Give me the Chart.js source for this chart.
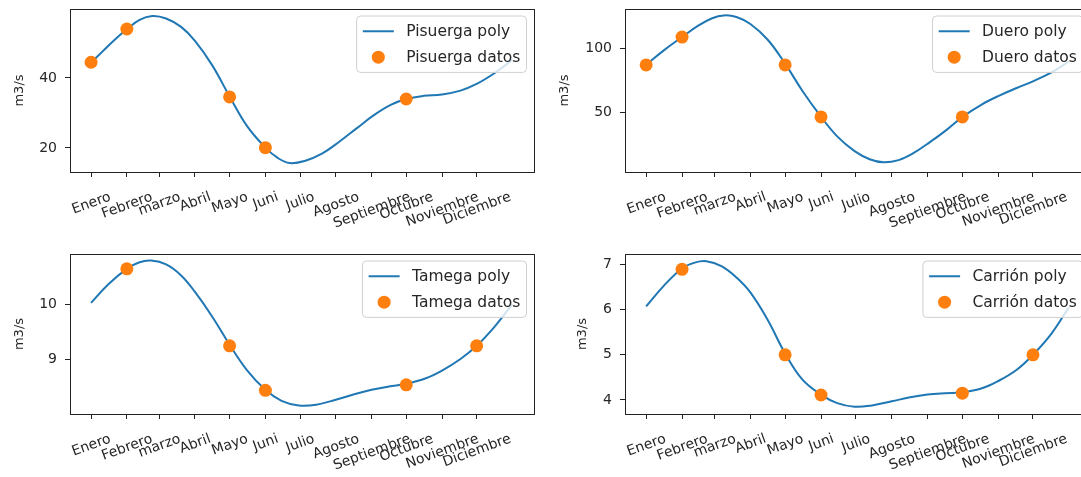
<!DOCTYPE html>
<html>
<head>
<meta charset="utf-8">
<script src="https://cdn.jsdelivr.net/npm/chart.js@4.4.1/dist/chart.umd.min.js"></script>
<style>
    html, body { margin: 0; padding: 0; background: #fff; }
    #wrap { position: relative; width: 1081px; height: 477px; overflow: hidden; background: #fff; }
    canvas { position: absolute; }
</style>
</head>
<body>
<div id="wrap">
    <canvas id="c1" style="left:0px;top:0px;width:540px;height:240px"></canvas>
    <canvas id="c2" style="left:540px;top:0px;width:560px;height:240px"></canvas>
    <canvas id="c3" style="left:0px;top:240px;width:540px;height:237px"></canvas>
    <canvas id="c4" style="left:540px;top:240px;width:560px;height:237px"></canvas>
</div>
<script>
// month labels and day-of-year where each month starts
const months = ['Enero', 'Febrero', 'marzo', 'Abril', 'Mayo', 'Juni', 'Julio', 'Agosto', 'Septiembre', 'Octubre', 'Noviembre', 'Diciembre'];
const monthDays = [0, 31, 59, 90, 120, 151, 181, 212, 243, 273, 304, 334];

// Pisuerga
const pisuergaDataDays = [0, 31, 120, 151, 273];
const pisuergaData = [44.5, 54.0, 34.6, 20.1, 34.0];
const pisuergaPolyDays = [0, 10, 20, 31, 42, 53, 65, 78, 90, 105, 120, 135, 151, 162, 172, 185, 200, 215, 230, 245, 260, 273, 288, 304, 320, 334, 350, 365];
const pisuergaPoly = [44.4, 47.6, 50.8, 53.9, 56.6, 57.7, 57.0, 54.6, 50.6, 43.6, 34.7, 26.3, 20.1, 17.1, 15.7, 16.3, 18.4, 21.8, 25.6, 29.4, 32.4, 34.0, 34.9, 35.3, 36.4, 38.3, 41.5, 45.2];
const pisuergaTicks = [20, 40];

// Duero
const dueroDataDays = [0, 31, 120, 151, 273];
const dueroData = [86.8, 108.6, 86.8, 46.2, 46.2];
const dueroPolyDays = [0, 15, 31, 45, 57, 67, 78, 90, 105, 120, 135, 151, 165, 180, 193, 205, 218, 230, 245, 260, 273, 290, 304, 320, 334, 350, 365];
const dueroPoly = [86.9, 98.0, 108.6, 117.5, 123.3, 125.5, 124.3, 118.8, 106.5, 87.8, 66.5, 46.4, 31.0, 19.5, 13.2, 10.8, 12.5, 17.5, 26.5, 36.5, 46.1, 56.0, 62.5, 68.8, 74.0, 81.0, 89.5];
const dueroTicks = [50, 100];

// Tamega
const tamegaDataDays = [31, 120, 151, 273, 334];
const tamegaData = [10.64, 9.24, 8.43, 8.53, 9.24];
const tamegaPolyDays = [0, 15, 31, 42, 52, 65, 78, 90, 105, 120, 135, 151, 165, 180, 195, 212, 228, 243, 258, 273, 290, 304, 320, 334, 350, 365];
const tamegaPoly = [10.02, 10.36, 10.64, 10.76, 10.79, 10.72, 10.52, 10.22, 9.77, 9.26, 8.80, 8.44, 8.24, 8.155, 8.17, 8.26, 8.36, 8.44, 8.50, 8.55, 8.65, 8.79, 9.00, 9.24, 9.60, 10.0];
const tamegaTicks = [9, 10];

// Carrión
const carrionDataDays = [31, 120, 151, 273, 334];
const carrionData = [6.89, 5.0, 4.11, 4.15, 5.0];
const carrionPolyDays = [0, 15, 31, 42, 52, 65, 78, 90, 105, 120, 135, 151, 165, 180, 195, 212, 228, 243, 258, 273, 290, 304, 320, 334, 350, 365];
const carrionPoly = [6.07, 6.52, 6.91, 7.04, 7.07, 6.96, 6.71, 6.38, 5.77, 5.03, 4.45, 4.12, 3.93, 3.85, 3.88, 3.97, 4.06, 4.12, 4.15, 4.17, 4.26, 4.42, 4.67, 5.0, 5.47, 6.05];
const carrionTicks = [4, 5, 6, 7];

const BLUE = '#1f77b4';
const ORANGE = '#ff7f0e';
const TEXT = '#262626';
const TICK_FONT = 14;
const LEGEND_FONT = 15.5;

function pts(xs, ys) {
    return xs.map(function (x, i) { return { x: x, y: ys[i] }; });
}

// frame, rotated month labels and legend inside the axes
const axesDecor = {
    id: 'axesDecor',
    afterDraw: function (chart) {
        const ctx = chart.ctx;
        const a = chart.chartArea;
        const xs = chart.scales.x;
        ctx.save();
        ctx.strokeStyle = '#222';
        ctx.lineWidth = 1;
        ctx.strokeRect(Math.round(a.left) + 0.5, Math.round(a.top) + 0.5, Math.round(a.right - a.left), Math.round(a.bottom - a.top));

        // x labels, rotated 20deg and centered under each tick
        ctx.font = TICK_FONT + 'px "DejaVu Sans"';
        ctx.fillStyle = TEXT;
        ctx.textAlign = 'center';
        ctx.textBaseline = 'middle';
        const ang = 20 * Math.PI / 180;
        xs.ticks.forEach(function (t, i) {
            const label = months[i];
            const w = ctx.measureText(label).width;
            const h = TICK_FONT * 1.16;
            const H = w * Math.sin(ang) + h * Math.cos(ang);
            const px = xs.getPixelForValue(t.value);
            const py = a.bottom + 16 + H / 2;
            ctx.save();
            ctx.translate(px, py);
            ctx.rotate(-ang);
            ctx.fillText(label, 0, 1);
            ctx.restore();
        });

        // legend
        const opts = chart.options.plugins.axesDecor;
        const f = LEGEND_FONT;
        ctx.font = f + 'px "DejaVu Sans"';
        const tw = Math.max.apply(null, opts.labels.map(function (s) { return ctx.measureText(s).width; }));
        const bp = 0.4 * f, hl = 2 * f, htp = 0.8 * f, rowH = 1.17 * f, ls = 0.5 * f;
        const lw = 2 * bp + hl + htp + tw;
        const lh = 2 * bp + 2 * rowH + ls;
        const lx = a.right - 7 - lw;
        const ly = a.top + 7;
        ctx.beginPath();
        ctx.roundRect(lx, ly, lw, lh, 4);
        ctx.fillStyle = 'rgba(255,255,255,0.8)';
        ctx.fill();
        ctx.strokeStyle = '#d0d0d0';
        ctx.stroke();
        const r1 = ly + bp + rowH / 2;
        const r2 = r1 + rowH + ls;
        ctx.strokeStyle = BLUE;
        ctx.lineWidth = 2;
        ctx.beginPath();
        ctx.moveTo(lx + bp, r1);
        ctx.lineTo(lx + bp + hl, r1);
        ctx.stroke();
        ctx.fillStyle = ORANGE;
        ctx.beginPath();
        ctx.arc(lx + bp + hl / 2, r2, 6.5, 0, Math.PI * 2);
        ctx.fill();
        ctx.fillStyle = TEXT;
        ctx.textAlign = 'left';
        ctx.textBaseline = 'middle';
        ctx.fillText(opts.labels[0], lx + bp + hl + htp, r1 + 1);
        ctx.fillText(opts.labels[1], lx + bp + hl + htp, r2 + 1);
        ctx.restore();
    }
};

function makeChart(id, cfg) {
    const canvas = document.getElementById(id);
    const W = parseInt(canvas.style.width), H = parseInt(canvas.style.height);
    return new Chart(canvas, {
        type: 'scatter',
        data: {
            datasets: [{
                label: cfg.name + ' datos',
                data: pts(cfg.dataDays, cfg.data),
                showLine: false,
                pointRadius: 6.5,
                pointHoverRadius: 6.5,
                pointBackgroundColor: ORANGE,
                pointBorderWidth: 0,
                order: 0
            }, {
                label: cfg.name + ' poly',
                data: pts(cfg.polyDays, cfg.poly),
                showLine: true,
                borderColor: BLUE,
                borderWidth: 2,
                pointRadius: 0,
                tension: 0.4,
                order: 1
            }]
        },
        options: {
            responsive: false,
            animation: false,
            layout: {
                padding: { left: 0, top: cfg.area[1], right: W - cfg.area[2], bottom: 0 }
            },
            plugins: {
                legend: { display: false },
                tooltip: { enabled: false },
                axesDecor: { labels: [cfg.name + ' poly', cfg.name + ' datos'] }
            },
            scales: {
                x: {
                    type: 'linear',
                    min: -18.25,
                    max: 383.25,
                    afterBuildTicks: function (s) {
                        s.ticks = monthDays.map(function (d) { return { value: d }; });
                    },
                    afterFit: function (s) {
                        s.height = H - cfg.area[3];
                        s.paddingLeft = 0;
                        s.paddingRight = 0;
                    },
                    ticks: { display: false },
                    grid: { drawOnChartArea: false, drawTicks: true, tickLength: 5, color: '#222', tickWidth: 1 },
                    border: { display: false }
                },
                y: {
                    min: cfg.ylim[0],
                    max: cfg.ylim[1],
                    afterBuildTicks: function (s) {
                        s.ticks = cfg.ticks.map(function (v) { return { value: v }; });
                    },
                    afterFit: function (s) {
                        s.width = cfg.area[0];
                        s.paddingTop = 0;
                        s.paddingBottom = 0;
                    },
                    ticks: {
                        color: TEXT,
                        padding: 8,
                        font: { family: 'DejaVu Sans', size: TICK_FONT },
                        callback: function (v) { return String(v); }
                    },
                    grid: { drawOnChartArea: false, drawTicks: true, tickLength: 5, color: '#222', tickWidth: 1 },
                    border: { display: false },
                    title: {
                        display: true,
                        text: 'm3/s',
                        color: TEXT,
                        font: { family: 'DejaVu Sans', size: 13 },
                        padding: { top: cfg.ylabelX - 7.8, bottom: 0 }
                    }
                }
            }
        },
        plugins: [axesDecor]
    });
}

makeChart('c1', {
    name: 'Pisuerga', dataDays: pisuergaDataDays, data: pisuergaData,
    polyDays: pisuergaPolyDays, poly: pisuergaPoly, ticks: pisuergaTicks,
    ylim: [13.14, 59.71], area: [70, 9, 535, 172], ylabelX: 20
});
makeChart('c2', {
    name: 'Duero', dataDays: dueroDataDays, data: dueroData,
    polyDays: dueroPolyDays, poly: dueroPoly, ticks: dueroTicks,
    ylim: [3.2, 130.5], area: [85, 9, 550, 172], ylabelX: 25
});
makeChart('c3', {
    name: 'Tamega', dataDays: tamegaDataDays, data: tamegaData,
    polyDays: tamegaPolyDays, poly: tamegaPoly, ticks: tamegaTicks,
    ylim: [8.0, 10.91], area: [70, 14, 535, 174], ylabelX: 20
});
makeChart('c4', {
    name: 'Carrión', dataDays: carrionDataDays, data: carrionData,
    polyDays: carrionPolyDays, poly: carrionPoly, ticks: carrionTicks,
    ylim: [3.69, 7.23], area: [85, 14, 550, 174], ylabelX: 43
});
</script>
</body>
</html>
